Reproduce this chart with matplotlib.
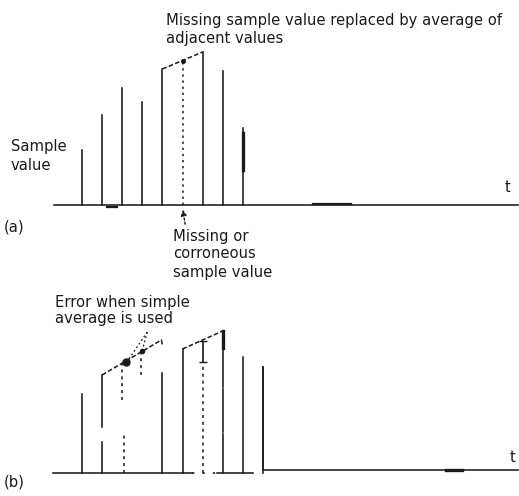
import matplotlib
matplotlib.use("Agg")
import matplotlib.pyplot as plt

W, H = 519, 496
INK = "#1a1a1a"

# (a) sample values, index 5 is the missing one
a_idx = [0, 1, 2, 3, 4, 5, 6, 7, 8]
a_vals = [55, 90, 117, 103, 136, None, 153, 134, 77]
a_missing = 5

# (b) sample values, None = missing
b_idx = [0, 1, 2, 3, 4, 5, 6, 7, 8, 9]
b_vals = [79, 98, None, None, 100, 124, None, 142, 116, 106]
b_trend1_x = [1, 3.95, 4.0]
b_trend1_y = [98, 133, 128]
b_trend2_x = [5, 7]
b_trend2_y = [124, 142]
b_err_top = [132, 111]      # error bar on sample 6
b_step_level = 3            # level after the last sample

plt.rcParams['font.family'] = ['DejaVu Sans']
fig = plt.figure(figsize=(W / 100, H / 100), dpi=100)
fig.patch.set_facecolor("white")


def px(x, y):
    return x / W, 1 - y / H


def make_ax(top, bottom, base_row):
    ax = fig.add_axes([0, 1 - bottom / H, 1, (bottom - top) / H])
    ax.set_xlim(-82 / 20.1, (W - 82) / 20.1)
    ax.set_ylim(base_row - bottom, base_row - top)
    ax.axis("off")
    return ax


lw = 1.15

# ---------- (a)
ax = make_ax(0, 250, 205)
ax.plot([-1.39, 21.7], [0, 0], color=INK, lw=lw)
for i, v in zip(a_idx, a_vals):
    if v is not None:
        ax.plot([i, i], [0, v], color=INK, lw=lw)
avg = (a_vals[a_missing - 1] + a_vals[a_missing + 1]) / 2
ax.plot([a_missing, a_missing], [0, avg], color=INK, lw=1.1, ls=(0, (1.5, 2.5)))
ax.plot([a_missing - 1, a_missing + 1], [a_vals[a_missing - 1], a_vals[a_missing + 1]],
        color=INK, lw=1.1, ls=(0, (3, 1.5)))
ax.plot([a_missing], [avg], marker="o", ms=2.5, color=INK)
ax.plot([8, 8], [35, 72], color=INK, lw=2.4)
ax.plot([1.25, 1.75], [-2, -2], color=INK, lw=1.6)
ax.plot([11.5, 13.4], [1, 1], color=INK, lw=1.6)
ax.annotate("", xy=(a_missing, -2), xytext=(a_missing + 0.15, -22),
            arrowprops=dict(arrowstyle="-|>", color=INK, lw=1.0, ls=(0, (1.5, 1.5)),
                            mutation_scale=8))

# ---------- (b)
ax = make_ax(250, 496, 473)
ax.plot([-1.44, 5.47], [0, 0], color=INK, lw=lw)
ax.plot([5.47, 6.72], [0, 0], color=INK, lw=lw, ls=(0, (1.5, 5)))
ax.plot([6.72, 8.51], [0, 0], color=INK, lw=lw)
for i, v in zip(b_idx, b_vals):
    if v is None:
        continue
    if i == 1:
        ax.plot([i, i], [0, 31], color=INK, lw=lw)
        ax.plot([i, i], [46, v], color=INK, lw=lw)
    elif i == 7:
        ax.plot([i, i], [0, 39], color=INK, lw=lw)
        ax.plot([i, i], [41, 84], color=INK, lw=lw)
        ax.plot([i, i], [86, v], color=INK, lw=lw)
        ax.plot([i, i], [125, v], color=INK, lw=2.4)
    else:
        ax.plot([i, i], [0, v], color=INK, lw=lw)
# step after last sample
ax.plot([9, 9, 21.7], [b_vals[9], b_step_level, b_step_level], color=INK, lw=lw)
ax.plot([18.1, 18.9], [b_step_level, b_step_level], color=INK, lw=2.4)

ax.plot(b_trend1_x, b_trend1_y, color=INK, lw=1.1, ls=(0, (3, 1.5)))
ax.plot(b_trend2_x, b_trend2_y, color=INK, lw=1.1, ls=(0, (3, 1.5)))

# missing sample 2
ax.plot([2.0, 2.0], [73, 111], color=INK, lw=1.1, ls=(0, (2, 2.5)))
ax.plot([2.1, 2.1], [0, 41], color=INK, lw=1.1, ls=(0, (2, 2.5)))
ax.plot([2.2], [111], marker="o", ms=5, color=INK)
# missing sample 3
ax.plot([2.95, 2.95], [98, 123], color=INK, lw=1.1, ls=(0, (2, 2.5)))
ax.plot([3.0], [122], marker="o", ms=3, color=INK)
# missing sample 6
ax.errorbar([6], [sum(b_err_top) / 2], yerr=[[(b_err_top[0] - b_err_top[1]) / 2],
            [(b_err_top[0] - b_err_top[1]) / 2]], color=INK, lw=1.2, capsize=3)
ax.plot([6, 6], [0, 111], color=INK, lw=1.1, ls=(0, (2, 2.5)))
# leader lines to error text
ax.plot([3.25, 2.3], [141, 113], color=INK, lw=0.9, ls=(0, (1.5, 2)))
ax.plot([3.25, 3.0], [141, 123], color=INK, lw=0.9, ls=(0, (1.5, 2)))

# ---------- text
fs = 10.6
txt = dict(color=INK, fontsize=fs, va="center", ha="left")
fig.text(*px(166, 20), "Missing sample value replaced by average of", **txt)
fig.text(*px(166, 38), "adjacent values", **txt)
fig.text(*px(11, 147), "Sample", **txt)
fig.text(*px(11, 165), "value", **txt)
fig.text(*px(505, 188), "t", **txt)
fig.text(*px(4, 227), "(a)", **txt)
fig.text(*px(173, 236), "Missing or", **txt)
fig.text(*px(173, 254), "corroneous", **txt)
fig.text(*px(173, 272), "sample value", **txt)
fig.text(*px(55, 303), "Error when simple", **txt)
fig.text(*px(55, 318), "average is used", **txt)
fig.text(*px(510, 458), "t", **txt)
fig.text(*px(4, 482), "(b)", **txt)

fig.savefig("out.png", dpi=100, facecolor="white")
